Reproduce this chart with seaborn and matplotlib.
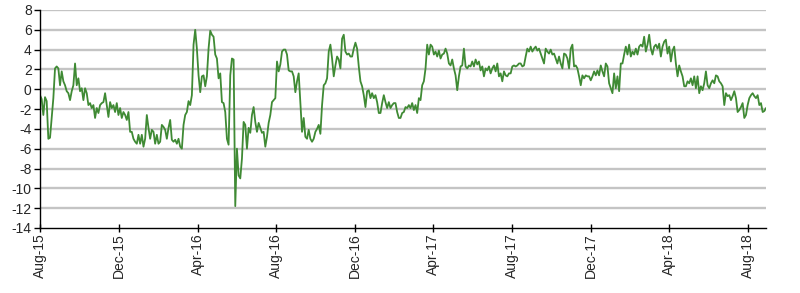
import matplotlib
matplotlib.use("Agg")
import matplotlib.pyplot as plt
import seaborn as sns
import pandas as pd

seg_2015 = [-0.6, -1.0, -2.6, -0.8, -1.2, -5.0, -4.9, -2.9, -0.9, 2.1, 2.3, 2.1, 0.4, 1.8, 0.8, 0.4,
            -0.2, -0.4, -1.1, -0.2, 0.4, 2.6, 0.4, 1.1, -0.2, 0.1, -1.1, 0.1, -0.4, -1.6, -1.4, -1.9,
            -1.6, -2.9, -1.9, -2.4, -1.6, -1.4, -1.3, -0.4, -1.6, -2.8, -1.3, -1.9, -1.6, -2.3, -1.4, -2.6,
            -1.9, -2.9, -2.3, -2.6, -3.1, -2.3, -4.3, -4.3, -5.0, -5.3, -5.5, -4.6, -5.5, -4.6, -5.8, -5.0,
            -2.6, -3.9, -5.0, -4.1, -4.3, -5.5, -4.6, -5.5]
seg_2016a = [-5.3, -3.6, -3.8, -4.1, -5.0, -3.9, -3.1, -5.1, -5.3, -5.1, -5.5, -5.0, -5.8, -6.0, -3.6, -2.6,
             -2.3, -1.2, -1.6, -0.6, 4.5, 6.0, 4.1, 1.4, -0.3, 1.3, 1.4, 0.3, 1.3, 4.1, 5.9, 5.5,
             5.3, 3.5, 3.1, 1.1, 1.6, -1.3, -1.4, -2.3, -5.0, -5.6, 1.4, 3.1, 3.0, -11.8, -6.0, -8.7,
             -9.0, -7.0, -3.3, -3.6, -6.0, -3.9, -4.4, -2.6, -1.8, -3.3, -4.3, -3.4, -3.9, -4.4, -4.3, -5.8,
             -4.8, -3.4, -2.6, -1.3, -1.1, -0.9, 2.8, 1.8]
seg_2016b = [2.5, 3.8, 4.0, 4.0, 3.5, 1.9, 1.8, 1.8, 1.3, -0.3, 0.8, 1.6, -1.3, -4.3, -2.9, -4.8,
             -5.0, -4.1, -5.0, -5.3, -5.0, -4.3, -4.0, -3.6, -4.5, -1.6, 0.4, 0.6, 1.1, 3.8, 4.5, 3.1,
             1.3, 2.4, 3.3, 3.0, 2.1, 5.1, 5.5, 3.8, 3.5, 3.6, 3.3, 3.3, 4.1, 4.7, 4.1, 2.3,
             0.8, 0.3, -0.6, -1.8, -0.2, -0.1, -0.9, -0.4, -0.9, -0.6, -1.3, -2.4, -2.4, -1.4, -0.6, -1.3,
             -1.9, -1.3, -1.9, -1.6, -1.4, -1.4, -2.3, -2.9]
seg_2017a = [-2.9, -2.4, -2.3, -1.8, -1.9, -1.6, -1.9, -1.4, -2.1, -1.6, -2.4, -0.9, -1.1, 0.4, 0.8, 2.1,
             4.5, 3.5, 4.5, 4.3, 3.5, 3.8, 3.3, 3.9, 3.1, 3.5, 3.6, 4.1, 3.6, 2.6, 2.4, 3.0,
             2.1, 1.4, -0.1, 1.3, 2.3, 2.4, 4.1, 2.3, 2.1, 2.4, 2.3, 2.8, 2.3, 3.0, 2.5, 2.8,
             1.9, 2.3, 1.3, 2.1, 1.9, 2.3, 1.6, 2.1, 2.4, 1.8, 2.6, 1.3, 1.6, 0.8, 1.8, 1.4,
             1.3, 1.6, 1.6, 2.3, 2.4, 2.3, 2.4, 2.6]
seg_2017b = [2.6, 2.3, 2.4, 3.3, 4.1, 3.8, 4.3, 3.8, 4.1, 4.3, 3.9, 4.1, 3.6, 3.1, 2.6, 4.1,
             3.8, 3.6, 4.0, 3.5, 3.6, 3.1, 2.6, 3.3, 2.6, 2.1, 3.6, 3.5, 3.1, 2.1, 4.1, 4.5,
             2.3, 2.4, 2.1, 1.3, 0.4, 1.4, 1.1, 1.4, 1.3, 1.3, 0.9, 1.3, 1.8, 1.4, 1.9, 1.4,
             2.4, 1.8, 1.3, 2.6, 2.3, 0.6, 0.1, -0.4, 1.6, 0.1, 1.3, -0.2, 2.6, 2.6, 3.5, 4.3,
             3.5, 4.5, 3.3, 3.8, 3.5, 4.1, 3.5, 4.3]
seg_2018 = [4.5, 4.3, 5.3, 3.8, 4.5, 5.5, 4.1, 3.5, 4.3, 4.5, 4.1, 4.6, 3.3, 4.3, 4.8, 5.0,
            3.6, 4.3, 2.8, 3.9, 4.3, 2.6, 1.3, 2.4, 1.8, 1.3, 0.3, 0.3, 0.8, 0.6, 1.1, 0.4,
            1.3, 0.1, 1.3, -0.4, 0.3, -0.1, 0.6, 1.8, 0.4, 0.1, 0.6, 0.9, 0.6, 1.4, 1.3, 0.8,
            0.6, 0.3, -1.6, -0.4, -0.7, -0.6, -1.1, -0.7, -0.2, -0.9, -2.3, -2.1, -1.8, -1.4, -2.9, -2.6,
            -1.6, -0.9, -0.6, -0.4, -0.7, -0.9, -0.6, -1.6, -1.4, -2.3, -2.2, -1.9]

values = seg_2015 + seg_2016a + seg_2016b + seg_2017a + seg_2017b + seg_2018
dates = pd.date_range("2015-08-01", periods=len(values), freq="62h")

tick_dates = pd.to_datetime(["2015-08-01", "2015-12-01", "2016-04-01", "2016-08-01", "2016-12-01",
                             "2017-04-01", "2017-08-01", "2017-12-01", "2018-04-01", "2018-08-01"])
tick_labels = ["Aug-15", "Dec-15", "Apr-16", "Aug-16", "Dec-16",
               "Apr-17", "Aug-17", "Dec-17", "Apr-18", "Aug-18"]
y_ticks = list(range(-14, 9, 2))

sns.set_style("white")
plt.rcParams["font.family"] = ["Liberation Sans", "DejaVu Sans"]

fig = plt.figure(figsize=(8.0, 2.93), dpi=100)
ax = fig.add_axes([0.05, 0.222, 0.9075, 0.744])

df = pd.DataFrame({"date": dates, "value": values})
sns.lineplot(data=df, x="date", y="value", ax=ax, color="#3f8a34", linewidth=1.3)

ax.set_ylim(-14, 8)
ax.set_xlim(dates[0], dates[-1])
ax.set_yticks(y_ticks)
ax.set_yticklabels([str(t) for t in y_ticks], fontsize=10)
ax.set_xticks(tick_dates)
ax.set_xticklabels(tick_labels, rotation=90, fontsize=10)
ax.set_xlabel("")
ax.set_ylabel("")

for t in y_ticks[1:]:
    ax.axhline(t, color="#c4c4c4", linewidth=1.7, zorder=0)

for s in ["top", "right"]:
    ax.spines[s].set_visible(False)
for s in ["left", "bottom"]:
    ax.spines[s].set_color("black")
    ax.spines[s].set_linewidth(1.0)

ax.tick_params(axis="y", direction="out", length=4, width=1, color="black", pad=2, left=True)
ax.tick_params(axis="x", direction="inout", length=6, width=1, color="black", pad=1, bottom=True)

fig.savefig("out.png", dpi=100)
